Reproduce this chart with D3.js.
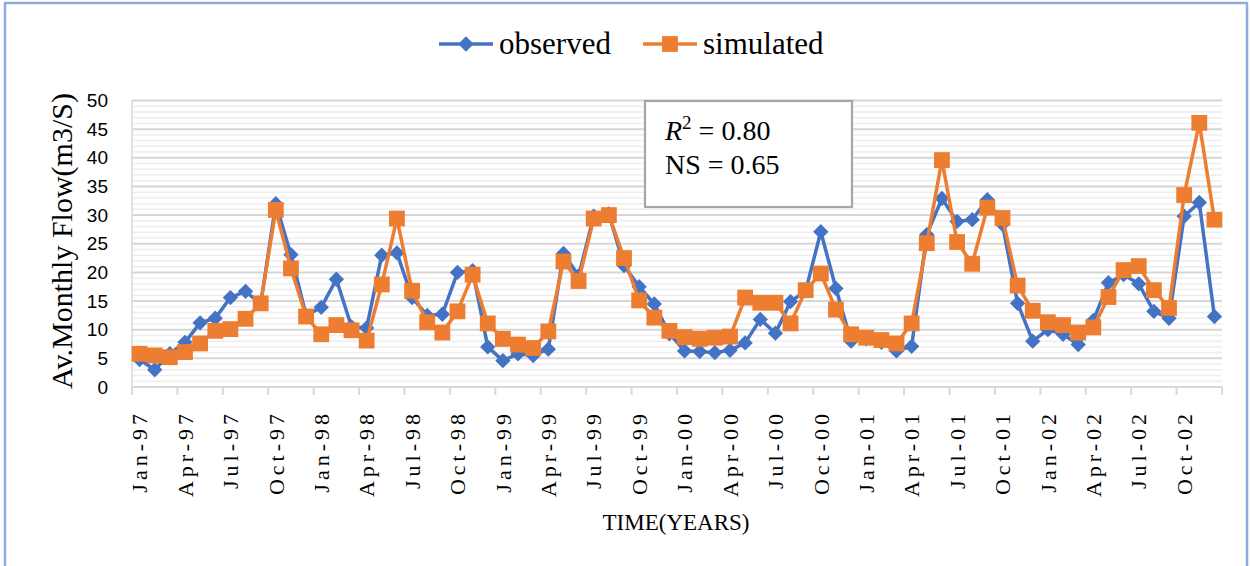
<!DOCTYPE html>
<html>
<head>
<meta charset="utf-8">
<script src="https://cdn.jsdelivr.net/npm/d3@7"></script>
<style>
  html, body { margin: 0; padding: 0; background: #fff; }
  svg { display: block; }
</style>
</head>
<body>
<svg id="chart" width="1250" height="566"></svg>
<script>
// ---- data ----
const monthNames = ["Jan","Feb","Mar","Apr","May","Jun","Jul","Aug","Sep","Oct","Nov","Dec"];
const years = ["97","98","99","00","01","02"];
const months = [];
years.forEach(y => monthNames.forEach(m => months.push(m + "-" + y)));

const observed = [
  4.8, 3.0, 5.8, 7.8, 11.2, 12.0, 15.6, 16.7, 14.5, 32.0, 23.1, 12.5,
  13.9, 18.8, 10.5, 10.3, 23.0, 23.4, 15.6, 12.5, 12.7, 20.0, 20.3, 7.0,
  4.6, 5.8, 5.5, 6.6, 23.3, 19.4, 29.8, 30.2, 21.2, 17.5, 14.5, 9.3,
  6.3, 6.2, 6.0, 6.4, 7.7, 11.8, 9.4, 14.9, 16.8, 27.1, 17.2, 8.0,
  8.4, 7.8, 6.3, 7.1, 26.6, 32.9, 28.9, 29.2, 32.7, 28.4, 14.6, 8.0,
  10.0, 9.2, 7.4, 11.6, 18.2, 19.6, 18.0, 13.2, 12.0, 29.8, 32.2, 12.3
];
const simulated = [
  5.8, 5.5, 5.2, 6.1, 7.6, 9.8, 10.1, 11.9, 14.6, 30.9, 20.7, 12.3,
  9.2, 10.8, 9.9, 8.1, 17.9, 29.4, 16.8, 11.3, 9.5, 13.2, 19.6, 11.1,
  8.4, 7.4, 6.8, 9.7, 21.9, 18.5, 29.4, 30.0, 22.5, 15.1, 12.1, 9.8,
  8.7, 8.4, 8.6, 8.8, 15.6, 14.7, 14.7, 11.1, 16.9, 19.8, 13.5, 9.2,
  8.6, 8.2, 7.6, 11.1, 25.1, 39.6, 25.3, 21.5, 31.3, 29.5, 17.7, 13.3,
  11.3, 10.8, 9.5, 10.4, 15.7, 20.4, 21.1, 16.9, 13.8, 33.5, 46.1, 29.2
];
const tickLabels = months.filter((m, i) => i % 3 === 0);
const yTicks = [0, 5, 10, 15, 20, 25, 30, 35, 40, 45, 50];
const statsLines = ["0.80", "0.65"];

// ---- layout ----
const svg = d3.select("#chart");
const pLeft = 132, pRight = 1222, pTop = 100.5, pBottom = 387;
const BLUE = "#4472c4", ORANGE = "#ed7d31";
const serif = "'Liberation Serif', 'Times New Roman', serif";

const x = d3.scaleBand().domain(months).range([pLeft, pRight]).padding(0);
const y = d3.scaleLinear().domain([0, 50]).range([pBottom, pTop]);

// outer border
svg.append("rect").attr("x", 5).attr("y", 3).attr("width", 1242).attr("height", 620)
  .attr("fill", "none").attr("stroke", "#8faadc").attr("stroke-width", 2.5);

// minor gridlines
const minor = d3.range(1, 50).filter(v => v % 5 !== 0);
svg.append("g").selectAll("line").data(minor).join("line")
  .attr("x1", pLeft).attr("x2", pRight)
  .attr("y1", d => y(d)).attr("y2", d => y(d))
  .attr("stroke", "#eeeeee").attr("stroke-width", 1.5);
// major gridlines
svg.append("g").selectAll("line").data(yTicks.filter(v => v > 0)).join("line")
  .attr("x1", pLeft).attr("x2", pRight)
  .attr("y1", d => y(d)).attr("y2", d => y(d))
  .attr("stroke", "#d6d6d6").attr("stroke-width", 2);

// left vertical axis line
svg.append("line").attr("x1", pLeft).attr("x2", pLeft).attr("y1", y(50)).attr("y2", y(0))
  .attr("stroke", "#d9d9d9").attr("stroke-width", 1.5);

// bottom axis line and ticks
svg.append("line").attr("x1", pLeft).attr("x2", pRight).attr("y1", y(0)).attr("y2", y(0))
  .attr("stroke", "#d9d9d9").attr("stroke-width", 2);
const tickPos = months.filter((m, i) => i % 3 === 0).map(m => x(m)).concat([pRight]);
svg.append("g").selectAll("line").data(tickPos).join("line")
  .attr("x1", d => d).attr("x2", d => d).attr("y1", y(0)).attr("y2", y(0) + 8)
  .attr("stroke", "#d9d9d9").attr("stroke-width", 2);

// y axis labels
const yAxis = d3.axisLeft(y).tickValues(yTicks).tickSize(0).tickPadding(0);
const gy = svg.append("g").attr("transform", "translate(108,0)").call(yAxis);
gy.select(".domain").remove();
gy.selectAll("text").attr("font-family", "'Liberation Sans', Arial, sans-serif")
  .attr("font-size", 19).attr("fill", "#000");

// x axis labels
svg.append("g").selectAll("text").data(tickLabels).join("text")
  .attr("transform", d => `translate(${x(d) + x.bandwidth() / 2},410) rotate(-90)`)
  .attr("text-anchor", "end").attr("dy", "0.35em")
  .attr("font-family", serif)
  .attr("font-size", 22).attr("letter-spacing", "4px").attr("fill", "#000")
  .text(d => d);

// axis titles
svg.append("text").attr("x", 676).attr("y", 530).attr("text-anchor", "middle")
  .attr("font-family", serif)
  .attr("font-size", 23).attr("fill", "#000").text("TIME(YEARS)");
svg.append("text").attr("transform", "translate(72,241) rotate(-90)")
  .attr("text-anchor", "middle")
  .attr("font-family", serif)
  .attr("font-size", 30).attr("fill", "#000").text("Av.Monthly Flow(m3/S)");

// series
const cx = d => x(d) + x.bandwidth() / 2;
const line = (vals) => d3.line().x((d, i) => cx(months[i])).y(d => y(d))(vals);

const diamond = d3.symbol().type(d3.symbolDiamond2).size(150);
const square = d3.symbol().type(d3.symbolSquare).size(250);

svg.append("path").attr("d", line(observed)).attr("fill", "none")
  .attr("stroke", BLUE).attr("stroke-width", 3.5).attr("stroke-linejoin", "round");
svg.append("g").selectAll("path").data(observed).join("path")
  .attr("d", diamond)
  .attr("transform", (d, i) => `translate(${cx(months[i])},${y(d)})`)
  .attr("fill", BLUE);

svg.append("path").attr("d", line(simulated)).attr("fill", "none")
  .attr("stroke", ORANGE).attr("stroke-width", 3.5).attr("stroke-linejoin", "round");
svg.append("g").selectAll("path").data(simulated).join("path")
  .attr("d", square)
  .attr("transform", (d, i) => `translate(${cx(months[i])},${y(d)})`)
  .attr("fill", ORANGE);

// stats box
svg.append("rect").attr("x", 645).attr("y", 101).attr("width", 207).attr("height", 106)
  .attr("fill", "#fff").attr("stroke", "#a6a6a6").attr("stroke-width", 2.2);
const t1 = svg.append("text").attr("x", 665).attr("y", 140)
  .attr("font-family", serif).attr("font-size", 28).attr("fill", "#000");
t1.append("tspan").attr("font-style", "italic").text("R");
t1.append("tspan").attr("font-size", 19).attr("dy", -11).text("2");
t1.append("tspan").attr("dy", 11).text(" = " + statsLines[0]);
svg.append("text").attr("x", 665).attr("y", 173.5)
  .attr("font-family", serif).attr("font-size", 28).attr("fill", "#000")
  .text("NS = " + statsLines[1]);

// legend
const lg = svg.append("g");
lg.append("line").attr("x1", 439).attr("x2", 493).attr("y1", 44).attr("y2", 44)
  .attr("stroke", BLUE).attr("stroke-width", 3.5);
lg.append("path").attr("d", diamond).attr("transform", "translate(466,44)").attr("fill", BLUE);
lg.append("text").attr("x", 499).attr("y", 54).attr("font-family", serif)
  .attr("font-size", 31).attr("fill", "#000").text("observed");
lg.append("line").attr("x1", 643).attr("x2", 697).attr("y1", 44).attr("y2", 44)
  .attr("stroke", ORANGE).attr("stroke-width", 3.5);
lg.append("path").attr("d", square).attr("transform", "translate(670,44)").attr("fill", ORANGE);
lg.append("text").attr("x", 703).attr("y", 54).attr("font-family", serif)
  .attr("font-size", 31).attr("fill", "#000").text("simulated");
</script>
</body>
</html>
